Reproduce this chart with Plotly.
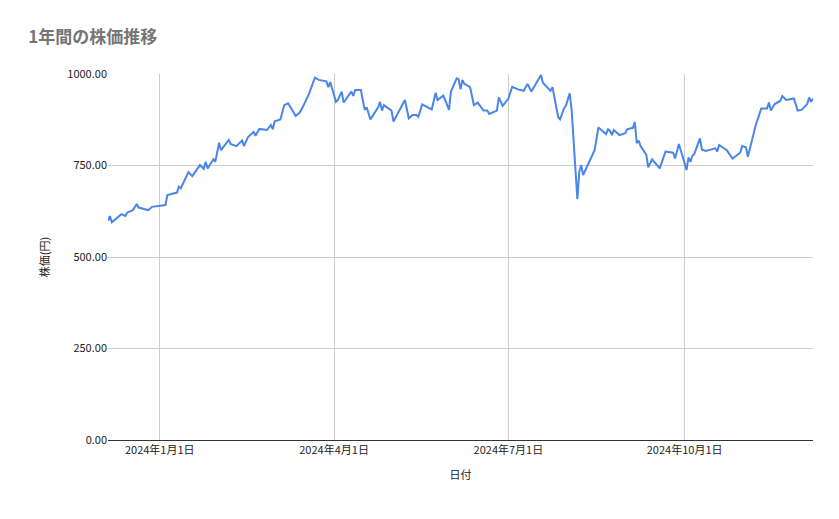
import pandas as pd
import plotly.graph_objects as go

# days since 2024-01-01
day_offsets = [-27,-26,-25,-20,-18,-17,-14,-12,-11,-6,-4,3,4,9,10,11,15,17,21,23,24,25,28,29,31,32,36,37,40,43,44,46,49,50,52,56,58,59,60,63,65,67,71,73,75,78,81,83,87,88,89,92,93,95,96,100,101,102,105,107,108,110,114,115,116,117,121,122,128,130,132,134,135,137,142,144,145,148,149,151,152,155,156,157,158,159,162,164,166,169,171,172,176,177,179,182,184,187,190,192,194,199,200,204,205,208,209,211,212,214,215,218,219,220,221,227,229,233,234,235,236,237,240,243,244,247,248,249,250,251,254,255,257,261,264,268,269,271,275,276,277,278,279,282,283,285,290,291,292,296,299,303,304,306,307,311,314,317,318,319,321,324,325,327,331,333,335,338,339,340,341]
prices = [599,612,595,617,612,621,628,645,635,628,637,642,669,676,692,688,732,721,751,741,760,742,767,760,812,792,820,809,803,818,803,827,842,831,850,847,861,849,871,876,915,920,885,894,913,947,990,984,980,964,978,924,929,952,922,952,940,956,956,902,909,876,909,924,900,915,900,870,929,879,888,888,883,917,903,949,929,941,929,902,952,988,986,958,984,973,964,915,922,900,900,891,900,936,913,933,965,958,954,973,952,997,976,954,964,882,876,906,913,947,903,658,733,751,724,792,854,836,849,845,833,847,833,838,849,853,869,811,818,803,779,745,767,742,788,785,769,809,738,772,760,776,781,824,794,790,797,788,806,792,769,785,803,800,774,858,906,906,922,900,918,927,940,929,933,900,902,918,936,924,933]
tick_dates = ["2024-01-01","2024-04-01","2024-07-01","2024-10-01"]
tick_labels = ["2024年1月1日","2024年4月1日","2024年7月1日","2024年10月1日"]
y_ticks = [0,250,500,750,1000]

base = pd.Timestamp("2024-01-01")
dates = [base + pd.Timedelta(days=d) for d in day_offsets]

fig = go.Figure(go.Scatter(x=dates, y=prices, mode="lines",
                           line=dict(color="#4a86e8", width=2)))
font = "Noto Sans CJK JP, Roboto, sans-serif"
fig.update_layout(
    width=839, height=519, plot_bgcolor="white", paper_bgcolor="white",
    margin=dict(l=100, r=34, t=66, b=87, autoexpand=False),
    font=dict(family=font, size=11, color="#222"),
    title=dict(text="<b>1年間の株価推移</b>", x=0.024, y=0.955, xanchor="left", yanchor="top",
               font=dict(size=17, color="#757575", family=font)),
    showlegend=False,
)
fig.update_xaxes(range=[dates[0], dates[-1]], tickvals=tick_dates, ticktext=tick_labels,
                 showgrid=True, gridcolor="#cccccc", showline=True, linecolor="#333",
                 ticks="", automargin=False, title=dict(text="日付", font=dict(size=11)))
fig.update_yaxes(range=[0, 1000], tickvals=y_ticks, tickformat=".2f", showgrid=True,
                 gridcolor="#cccccc", zeroline=False, ticks="", automargin=False,
                 title=dict(text="株価(円)", font=dict(size=11)))
fig.write_html("out.html")
